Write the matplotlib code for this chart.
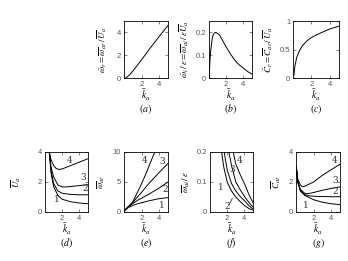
import matplotlib
matplotlib.use("Agg")
import matplotlib.pyplot as plt

plt.rcParams["font.family"] = ["Liberation Sans", "DejaVu Sans"]
plt.rcParams["mathtext.fontset"] = "stix"

# (a) omega_r tilde vs k_a
a_x = [0.2, 0.6, 1.0, 2.0, 3.0, 4.0, 5.0]
a_y = [0.0, 0.25, 0.6, 1.6, 2.65, 3.65, 4.6]

# (b) omega_i tilde / eps
b_x = [0.02, 0.1, 0.2, 0.4, 0.6, 0.8, 1.2, 1.6, 2.0, 2.5, 3.0, 3.5, 4.0, 4.5, 5.0]
b_y = [0.0, 0.07, 0.12, 0.18, 0.197, 0.2, 0.19, 0.163, 0.136, 0.105, 0.078, 0.058, 0.043, 0.028, 0.017]

# (c) C_r tilde
c_x = [0.1, 0.2, 0.4, 0.7, 1.0, 1.5, 2.0, 3.0, 4.0, 5.0]
c_y = [0.05, 0.2, 0.36, 0.48, 0.56, 0.65, 0.71, 0.79, 0.86, 0.91]

# (d) U_a, curves 1..4
d_x = [[0.5, 0.7, 1.0, 1.5, 2.0, 3.0, 4.0, 5.0],
       [0.5, 0.7, 1.0, 1.5, 2.0, 3.0, 4.0, 5.0],
       [0.5, 0.7, 1.0, 1.5, 2.0, 2.5, 3.0, 4.0, 5.0],
       [0.5, 0.7, 1.0, 1.3, 1.6, 2.0, 3.0, 4.0, 5.0]]
d_y = [[4.0, 2.6, 1.7, 1.1, 0.85, 0.68, 0.6, 0.55],
       [4.0, 2.8, 1.9, 1.4, 1.25, 1.17, 1.15, 1.15],
       [4.0, 3.0, 2.35, 1.8, 1.67, 1.67, 1.7, 1.76, 1.82],
       [4.0, 3.5, 3.1, 2.9, 2.84, 2.87, 3.1, 3.33, 3.55]]
d_lab = [(1.36, 0.8), (4.65, 1.55), (4.45, 2.3), (2.83, 3.45)]

# (e) omega_ar
e_x = [[0.1, 0.5, 1.0, 1.6, 2.0, 2.74, 3.9, 5.0],
       [0.1, 0.5, 1.0, 1.6, 2.0, 2.74, 4.0, 5.0],
       [0.1, 0.5, 1.0, 2.0, 2.74, 4.0, 5.0],
       [0.1, 0.5, 1.0, 1.9, 2.5, 3.1, 3.5]]
e_y = [[0.3, 0.75, 1.1, 1.4, 1.55, 1.83, 2.2, 2.4],
       [0.3, 0.9, 1.4, 2.0, 2.3, 2.9, 4.0, 5.0],
       [0.3, 0.9, 1.6, 3.3, 4.6, 6.6, 8.1],
       [0.3, 0.9, 1.7, 4.4, 6.4, 8.6, 10.0]]
e_lab = [(4.3, 1.1), (4.7, 3.8), (4.3, 8.5), (2.3, 8.6)]

# (f) omega_ai / eps
f_x = [[1.35, 1.6, 2.0, 2.5, 3.0, 3.5, 4.0, 4.5, 5.0],
       [1.65, 2.0, 2.5, 3.0, 3.5, 4.0, 4.5, 5.0],
       [2.2, 2.5, 3.0, 3.5, 4.0, 4.5, 5.0],
       [2.7, 3.0, 3.5, 4.0, 4.5, 5.0]]
f_y = [[0.2, 0.15, 0.1, 0.07, 0.05, 0.035, 0.022, 0.012, 0.006],
       [0.2, 0.14, 0.095, 0.07, 0.052, 0.038, 0.022, 0.01],
       [0.2, 0.155, 0.1, 0.075, 0.052, 0.033, 0.017],
       [0.2, 0.16, 0.125, 0.095, 0.06, 0.031]]
f_lab = [(1.25, 0.08), (2.0, 0.018), (2.6, 0.14), (3.45, 0.172)]

# (g) C_ar
g_x = [[0.03, 0.2, 0.5, 1.0, 2.0, 3.0, 4.0, 5.0],
       [0.03, 0.2, 0.5, 1.0, 1.5, 2.0, 3.0, 4.0, 5.0],
       [0.03, 0.2, 0.5, 1.05, 1.5, 2.0, 3.0, 4.0, 5.0],
       [0.03, 0.2, 0.5, 0.75, 1.0, 2.0, 3.0, 4.0, 5.0]]
g_y = [[3.0, 2.0, 1.4, 1.1, 0.82, 0.65, 0.55, 0.49],
       [3.0, 2.0, 1.45, 1.15, 1.08, 1.05, 1.03, 1.02, 1.02],
       [3.0, 2.05, 1.5, 1.22, 1.24, 1.3, 1.45, 1.57, 1.67],
       [3.0, 2.2, 1.8, 1.68, 1.72, 2.0, 2.45, 2.82, 3.18]]
g_lab = [(1.13, 0.45), (4.5, 1.35), (4.4, 2.1), (4.4, 3.45)]

kbar = r"$\bar{k}_a$"
W, H = 348.0, 261.0
fig = plt.figure(figsize=(3.48, 2.61), dpi=100)


def make_ax(x0, y0, x1, y1):
    return fig.add_axes([x0 / W, 1 - y1 / H, (x1 - x0) / W, (y1 - y0) / H])


def style(ax, box, ylim, yticks, ylabel, tag, lab_x):
    ax.set_xlim(0, 5)
    ax.set_ylim(*ylim)
    ax.set_xticks([2, 4])
    ax.set_yticks(yticks)
    ax.tick_params(direction="in", length=2, width=0.5, labelsize=5.5,
                   top=True, right=True, pad=2, colors="#555555")
    for s in ax.spines.values():
        s.set_linewidth(0.6)
    ax.set_ylabel(ylabel, fontsize=6.5, labelpad=1)
    ax.yaxis.set_label_coords(lab_x, 0.5)
    cx = (box[0] + box[2]) / 2 / W
    yb = box[3]
    fig.text(cx, 1 - (yb + 17) / H, kbar, ha="center", va="center", fontsize=7)
    fig.text(cx, 1 - (yb + 31) / H, tag, ha="center", va="center", fontsize=7)


lw = 0.7
box = (124, 21, 168, 78)
ax = make_ax(*box)
ax.plot(a_x, a_y, color="k", lw=lw)
style(ax, box, (0, 5), [0, 2, 4], r"$\tilde{\omega}_r=\overline{\omega}_{ar}\,/\,\overline{U}_a$", r"$(a)$", -0.35)

box = (209, 21, 252, 78)
ax = make_ax(*box)
ax.plot(b_x, b_y, color="k", lw=lw)
style(ax, box, (0, 0.25), [0, 0.1, 0.2], r"$\tilde{\omega}_i\,/\,\varepsilon=\overline{\omega}_{ai}\,/\,\varepsilon\overline{U}_a$", r"$(b)$", -0.42)
ax.set_yticklabels(["0", "0.1", "0.2"])

box = (293, 21, 339, 78)
ax = make_ax(*box)
ax.plot(c_x, c_y, color="k", lw=lw)
style(ax, box, (0, 1), [0, 0.5, 1], r"$\tilde{C}_r=\overline{C}_{ar}\,/\,\overline{U}_a$", r"$(c)$", -0.4)
ax.set_yticklabels(["0", "0.5", "1"])

panels = [((45, 152, 88, 212), d_x, d_y, d_lab, (0, 4), [0, 2, 4], r"$\overline{U}_a$", r"$(d)$", -0.5),
          ((124, 152, 168, 212), e_x, e_y, e_lab, (0, 10), [0, 5, 10], r"$\overline{\omega}_{ar}$", r"$(e)$", -0.38),
          ((210, 152, 253, 212), f_x, f_y, f_lab, (0, 0.2), [0, 0.1, 0.2], r"$\overline{\omega}_{ai}\,/\,\varepsilon$", r"$(f)$", -0.42),
          ((296, 152, 340, 212), g_x, g_y, g_lab, (0, 4), [0, 2, 4], r"$\overline{C}_{ar}$", r"$(g)$", -0.3)]

for box, xs, ys, labs, ylim, yt, ylab, tag, lx in panels:
    ax = make_ax(*box)
    for i in range(4):
        ax.plot(xs[i], ys[i], color="k", lw=lw, clip_on=True)
        ax.text(labs[i][0], labs[i][1], str(i + 1), fontsize=6.5, ha="center", va="center",
                family="DejaVu Serif", color="#333333")
    style(ax, box, ylim, yt, ylab, tag, lx)
    if tag == r"$(f)$":
        ax.set_yticklabels(["0", "0.1", "0.2"])
        ax.plot([2.2, 2.6], [0.025, 0.045], color="k", lw=0.5)

fig.savefig("out.png", dpi=100)
